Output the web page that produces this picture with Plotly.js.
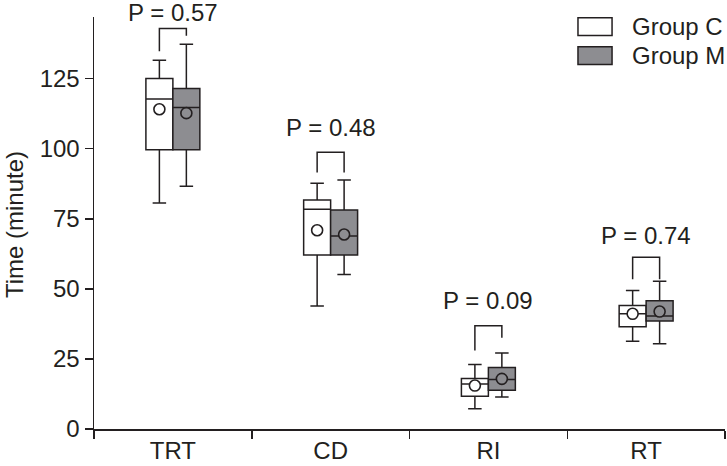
<!DOCTYPE html>
<html>
<head>
<meta charset="utf-8">
<script src="https://cdn.plot.ly/plotly-3.0.1.min.js"></script>
<style>
  html, body { margin: 0; padding: 0; background: #fff; }
  #chart { width: 727px; height: 466px; }
</style>
</head>
<body>
<div id="chart"></div>
<script>
// categories and box stats (minutes)
var categories = ['TRT', 'CD', 'RI', 'RT'];

var groupC_lower  = [80.6, 43.9, 7.2, 31.3];
var groupC_q1     = [99.6, 62.1, 11.7, 36.5];
var groupC_median = [117.7, 78.4, 16.1, 41.1];
var groupC_q3     = [125.1, 81.7, 18.0, 44.1];
var groupC_upper  = [131.6, 87.7, 23.0, 49.4];
var groupC_mean   = [114.1, 70.9, 15.5, 41.1];

var groupM_lower  = [86.6, 55.1, 11.4, 30.4];
var groupM_q1     = [99.6, 62.1, 13.8, 38.5];
var groupM_median = [114.7, 68.9, 17.7, 40.3];
var groupM_q3     = [121.5, 78.1, 21.9, 45.8];
var groupM_upper  = [137.3, 88.8, 27.1, 52.7];
var groupM_mean   = [112.7, 69.4, 17.9, 41.9];

// significance brackets
var pValues      = ['P = 0.57', 'P = 0.48', 'P = 0.09', 'P = 0.74'];
var bracketTop   = [142.9, 98.7, 36.8, 61.3];
var bracketLegC  = [134.8, 91.5, 28.0, 53.4];
var bracketLegM  = [140.3, 91.5, 32.6, 53.4];

var ink = '#231f20';
var grayFill = '#8d8d91';
var font = 'Liberation Sans, Arial, Helvetica, sans-serif';
var fs = 24;
var labelLift = [16, 25, 25, 22];   // px between bracket top and P label centre
var boxGap = 0.658;
var off = 0.25 * (1 - boxGap);   // half-distance between paired box centers

function boxTrace(name, fill, lower, q1, med, q3, upper){
	return {
		type: 'box',
		name: name,
		x: categories,
		lowerfence: lower,
		q1: q1,
		median: med,
		q3: q3,
		upperfence: upper,
		boxpoints: false,
		fillcolor: fill,
		line: {color: ink, width: 1.5},
		whiskerwidth: 0.5,
		hoverinfo: 'skip',
		showlegend: false
	};
}

function meanTrace(means, fill, sign){
	return {
		type: 'scatter',
		mode: 'markers',
		xaxis: 'x2',
		x: means.map((m, i) => i + sign * off),
		y: means,
		marker: {symbol: 'circle', size: 11, color: fill, line: {color: ink, width: 1.6}},
		hoverinfo: 'skip',
		showlegend: false,
		cliponaxis: false
	};
}

var bx = [], by = [];
categories.forEach((c, i) => {
	bx.push(i - off, i - off, i + off, i + off, null);
	by.push(bracketLegC[i], bracketTop[i], bracketTop[i], bracketLegM[i], null);
});

var data = [
	boxTrace('Group C', '#ffffff', groupC_lower, groupC_q1, groupC_median, groupC_q3, groupC_upper),
	boxTrace('Group M', grayFill, groupM_lower, groupM_q1, groupM_median, groupM_q3, groupM_upper),
	meanTrace(groupC_mean, '#ffffff', -1),
	meanTrace(groupM_mean, grayFill, 1),
	{
		type: 'scatter',
		mode: 'lines',
		xaxis: 'x2',
		x: bx,
		y: by,
		line: {color: ink, width: 1.5},
		hoverinfo: 'skip',
		showlegend: false,
		cliponaxis: false
	}
];

var annotations = categories.map((c, i) => {
	return {
		xref: 'x2', yref: 'y',
		x: i, y: bracketTop[i],
		yshift: labelLift[i],
		text: pValues[i],
		showarrow: false,
		xanchor: 'center', yanchor: 'middle',
		font: {family: font, size: fs, color: ink}
	};
});

// axis title
annotations.push({
	xref: 'paper', yref: 'paper',
	x: -0.127, y: 0.497,
	text: 'Time (minute)',
	textangle: -90,
	showarrow: false,
	xanchor: 'center', yanchor: 'middle',
	font: {family: font, size: fs, color: ink}
});

// legend (drawn by hand to get the wide swatches)
var legendNames = ['Group C', 'Group M'];
var legendFills = ['#ffffff', grayFill];
var shapes = [];
legendNames.forEach((n, k) => {
	var yTop = 0.998 - k * 0.0705;
	shapes.push({
		type: 'rect', xref: 'paper', yref: 'paper',
		x0: 0.767, x1: 0.821, y0: yTop - 0.043, y1: yTop,
		fillcolor: legendFills[k],
		line: {color: ink, width: 1.5}
	});
	annotations.push({
		xref: 'paper', yref: 'paper',
		x: 0.849, y: yTop - 0.0215,
		text: n, showarrow: false,
		xanchor: 'left', yanchor: 'middle',
		font: {family: font, size: fs, color: ink}
	});
});

var layout = {
	width: 727,
	height: 466,
	margin: {l: 94, r: 2, t: 17, b: 37},
	paper_bgcolor: '#ffffff',
	plot_bgcolor: '#ffffff',
	boxmode: 'group',
	boxgap: boxGap,
	boxgroupgap: 0,
	font: {family: font, size: fs, color: ink},
	showlegend: false,
	xaxis: {
		type: 'category',
		range: [-0.5, 3.5],
		tickson: 'boundaries',
		ticks: 'outside',
		ticklen: 8,
		tickwidth: 1.5,
		tickcolor: ink,
		showline: true,
		linecolor: ink,
		linewidth: 1.5,
		showgrid: false,
		zeroline: false,
		automargin: false,
		tickfont: {family: font, size: fs, color: ink}
	},
	xaxis2: {
		overlaying: 'x',
		range: [-0.5, 3.5],
		visible: false
	},
	yaxis: {
		range: [0, 147],
		tickvals: [0, 25, 50, 75, 100, 125],
		ticks: 'outside',
		ticklen: 8,
		tickwidth: 1.5,
		tickcolor: ink,
		showline: true,
		linecolor: ink,
		linewidth: 1.5,
		showgrid: false,
		zeroline: false,
		automargin: false,
		tickfont: {family: font, size: fs, color: ink}
	},
	annotations: annotations,
	shapes: shapes
};

Plotly.newPlot('chart', data, layout, {staticPlot: true});
</script>
</body>
</html>
